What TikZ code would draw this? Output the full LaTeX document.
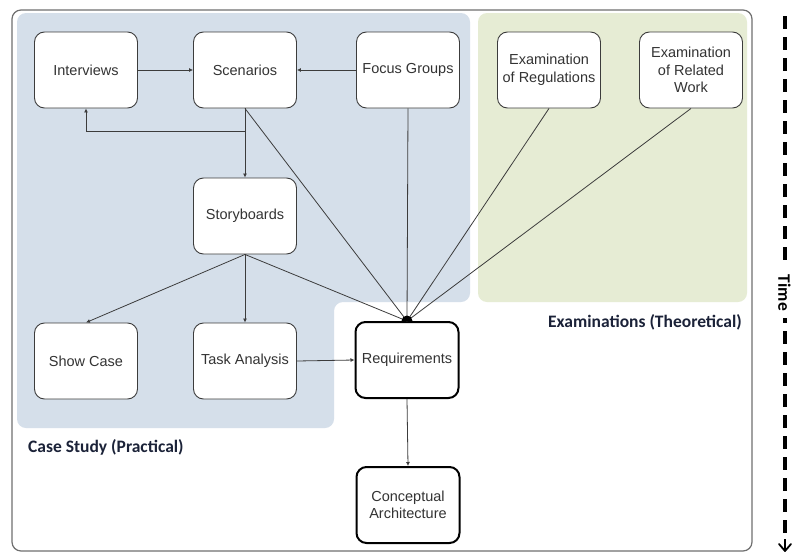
\documentclass[tikz,border=0pt]{standalone}
\usepackage{fontspec}
\setmainfont{Liberation Sans}
\newfontfamily\labelfont{Carlito}
\usetikzlibrary{arrows.meta}
\definecolor{casebg}{HTML}{D5DFEA}
\definecolor{exambg}{HTML}{E6ECD4}
\definecolor{framegray}{HTML}{707070}
\definecolor{edgegray}{HTML}{3C3C3C}
\definecolor{labelnavy}{HTML}{1B2238}
\begin{document}
\begin{tikzpicture}[x=1pt,y=-1pt,
  stepbox/.style={draw=edgegray, line width=0.9pt, fill=white, rounded corners=10pt,
    minimum width=103pt, minimum height=76pt, inner sep=1pt, align=center,
    font=\fontsize{14.5}{17.5}\selectfont, text=black!80},
  keybox/.style={stepbox, draw=black, line width=2pt},
  link/.style={draw=edgegray, line width=0.8pt},
  flow/.style={link, -{Latex[length=4pt,width=4pt]}},
  grouplabel/.style={font=\labelfont\bfseries\fontsize{17.5}{20}\selectfont, text=labelnavy, inner sep=0pt}
]
\useasboundingbox (0,0) rectangle (792,554);
\fill[white] (0,0) rectangle (792,554);

% outer frame
\draw[framegray, line width=1.2pt, rounded corners=9pt] (12,10) rectangle (752,551);

% group backgrounds
\fill[casebg, rounded corners=9pt] (17,13) -- (470,13) -- (470,302) -- (334,302) -- (334,428) -- (17,428) -- cycle;
\fill[exambg, rounded corners=9pt] (478,13) rectangle (747,302);

% nodes
\node[stepbox] (int)  at (86,70)   {Interviews};
\node[stepbox] (scen) at (245,70)  {Scenarios};
\node[stepbox] (foc)  at (408,70)  {Focus Groups};
\node[stepbox] (story) at (245,216) {Storyboards};
\node[stepbox] (show) at (86,361)  {Show Case};
\node[stepbox] (task) at (245,361) {Task Analysis};
\node[keybox]  (req)  at (407,360) {Requirements};
\node[keybox]  (arch) at (408,505) {Conceptual\\Architecture};
\node[stepbox] (regs) at (549,70)  {Examination\\of Regulations};
\node[stepbox] (rel)  at (691,70)  {Examination\\of Related\\Work};

% connectors
\draw[flow] (int.east) -- (scen.west);
\draw[flow] (foc.west) -- (scen.east);
\draw[flow] (scen.south) -- (story.north);
\coordinate (split) at (245,131);
\draw[flow] (split) -| (int.south);
\draw[link] (scen.south) -- (req.north);
\draw[link] (foc.south) -- (req.north);
\draw[link] (regs.south) -- (req.north);
\draw[link] (rel.south) -- (req.north);
\draw[flow] (story.south) -- (show.north);
\draw[flow] (story.south) -- (task.north);
\draw[link] (story.south) -- (req.north);
\draw[flow] (task.east) -- (req.west);
\draw[flow] (req.south) -- (arch.north);
\fill[black] ([xshift=-5.5pt]req.north) arc[start angle=180, end angle=0, radius=5.5pt] -- cycle;

% group labels
\node[grouplabel, anchor=west] (caselbl) at (28,447) {Case Study (Practical)};
\node[grouplabel, anchor=east] (examlbl) at (742,322) {Examinations (Theoretical)};

% time axis: dashed line with an open arrowhead at its foot
% (xshift/yshift act on the page, so a positive yshift moves upwards)
\coordinate (t1) at (785,16);
\coordinate (t2) at (785,551);
\draw[black, line width=3.2pt, dash pattern=on 13pt off 8pt] (t1) -- ([yshift=12pt]t2);
\draw[black, line width=1.8pt] ([yshift=12pt]t2) -- (t2);
\draw[black, line width=1.8pt, line cap=round, line join=round]
  ([xshift=-6pt,yshift=7pt]t2) -- (t2) -- ([xshift=6pt,yshift=7pt]t2);
\node[grouplabel, text=black, fill=white, rotate=-90, inner xsep=7pt, inner ysep=2pt] (timelbl) at (784.5,293) {Time};
\end{tikzpicture}
\end{document}
